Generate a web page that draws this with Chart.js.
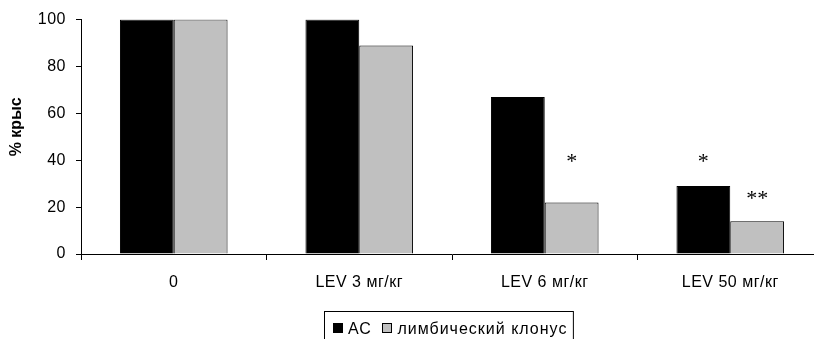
<!DOCTYPE html>
<html>
<head>
<meta charset="utf-8">
<script src="https://cdn.jsdelivr.net/npm/chart.js@4/dist/chart.umd.min.js"></script>
<style>
  html, body { margin: 0; padding: 0; background: #fff; overflow: hidden; }
  #wrap { width: 814px; height: 339px; position: relative; overflow: hidden; }
  #c { display: block; }
</style>
</head>
<body>
<div id="wrap"><canvas id="c" width="825" height="339"></canvas></div>
<script>
// Groups on the x axis
const categories = ['0', 'LEV 3 мг/кг', 'LEV 6 мг/кг', 'LEV 50 мг/кг'];
// Share of rats with each seizure type, %
const acValues = [100, 100, 67, 29];
const clonusValues = [100, 89, 22, 14];
const seriesNames = ['АС', 'лимбический клонус'];
const yTicks = [0, 20, 40, 60, 80, 100];
const yTitle = '% крыс';
// Significance marks: group index, series index, text, level (%)
const sigGroup = [2, 3, 3];
const sigSeries = [1, 0, 1];
const sigText = ['*', '*', '**'];
const sigLevel = [41, 41, 25];

const FONT = '"Liberation Sans", Arial, sans-serif';
const SERIF = '"Liberation Serif", "Times New Roman", serif';

// Slightly looser tracking for axis labels
const spacingPlugin = {
  id: 'tickSpacing',
  beforeDraw(chart) { chart.ctx.letterSpacing = '0.5px'; },
  afterDatasetsDraw(chart) { chart.ctx.letterSpacing = '0px'; }
};

// Rotated y-axis title
const yTitlePlugin = {
  id: 'yTitle',
  afterDraw(chart) {
    const ctx = chart.ctx;
    const a = chart.chartArea;
    ctx.save();
    ctx.translate(17, (a.top + a.bottom) / 2 - 10);
    ctx.rotate(-Math.PI / 2);
    ctx.font = 'bold 16px ' + FONT;
    ctx.fillStyle = '#000';
    ctx.textAlign = 'center';
    ctx.textBaseline = 'middle';
    ctx.fillText(yTitle, 0, 0);
    ctx.restore();
  }
};

const sigPlugin = {
  id: 'sigMarks',
  afterDatasetsDraw(chart) {
    const ctx = chart.ctx;
    const y = chart.scales.y;
    ctx.save();
    ctx.fillStyle = '#000';
    ctx.font = '22px ' + SERIF;
    ctx.textAlign = 'center';
    ctx.textBaseline = 'middle';
    for (let i = 0; i < sigText.length; i++) {
      const bar = chart.getDatasetMeta(sigSeries[i]).data[sigGroup[i]];
      ctx.fillText(sigText[i], bar.x, y.getPixelForValue(sigLevel[i]) + 4);
    }
    ctx.restore();
  }
};

const legendPlugin = {
  id: 'boxLegend',
  afterDraw(chart) {
    const ctx = chart.ctx;
    const area = chart.chartArea;
    ctx.save();
    ctx.font = '16px ' + FONT;
    ctx.letterSpacing = '1px';
    ctx.textBaseline = 'middle';
    const sq = 10, gap = 5.5, itemGap = 10, padL = 8, padR = 6;
    const widths = chart.data.datasets.map(ds => ctx.measureText(ds.label).width);
    let total = padL + padR;
    widths.forEach((w, i) => { total += sq + gap + w + (i ? itemGap : 0); });
    const cx = (area.left + area.right) / 2 - 3.5;
    const left = Math.round(cx - total / 2) + 0.5;
    const top = 311.5;
    ctx.strokeStyle = '#000';
    ctx.lineWidth = 1;
    ctx.fillStyle = '#fff';
    ctx.fillRect(left, top, total, 40);
    ctx.strokeRect(left, top, total, 40);
    let x = left + padL;
    const cy = 329.5;
    chart.data.datasets.forEach((ds, i) => {
      if (i) x += itemGap;
      ctx.fillStyle = ds.backgroundColor;
      ctx.fillRect(Math.round(x), 323, sq, sq);
      ctx.strokeStyle = '#000';
      ctx.strokeRect(Math.round(x) + 0.5, 323.5, sq - 1, sq - 1);
      x += sq + gap;
      ctx.fillStyle = '#000';
      ctx.fillText(ds.label, x, cy);
      x += widths[i];
    });
    ctx.restore();
  }
};

new Chart(document.getElementById('c'), {
  type: 'bar',
  data: {
    labels: categories,
    datasets: [
      { label: seriesNames[0], data: acValues, backgroundColor: '#000000', borderColor: '#000', borderWidth: 1 },
      { label: seriesNames[1], data: clonusValues, backgroundColor: '#C0C0C0', borderColor: '#000', borderWidth: 1 }
    ]
  },
  options: {
    responsive: false,
    animation: false,
    devicePixelRatio: 1,
    layout: { padding: { top: 15, right: 2, bottom: 45, left: 0 } },
    categoryPercentage: 0.58,
    barPercentage: 1,
    plugins: {
      legend: { display: false },
      tooltip: { enabled: false }
    },
    scales: {
      x: {
        grid: { display: true, drawOnChartArea: false, offset: true, tickLength: 6, color: '#000' },
        border: { color: '#000', width: 1 },
        ticks: { color: '#000', font: { family: FONT, size: 16 }, padding: 13, maxRotation: 0 },
        afterFit(s) { s.height = 40; }
      },
      y: {
        min: 0, max: 100,
        afterBuildTicks(s) { s.ticks = yTicks.map(v => ({ value: v })); },
        grid: { display: true, drawOnChartArea: false, tickLength: 5, color: '#000' },
        border: { color: '#000', width: 1 },
        ticks: { color: '#000', font: { family: FONT, size: 16 }, padding: 10 },
        afterFit(s) { s.width = 81; }
      }
    }
  },
  plugins: [spacingPlugin, sigPlugin, yTitlePlugin, legendPlugin]
});
</script>
</body>
</html>
